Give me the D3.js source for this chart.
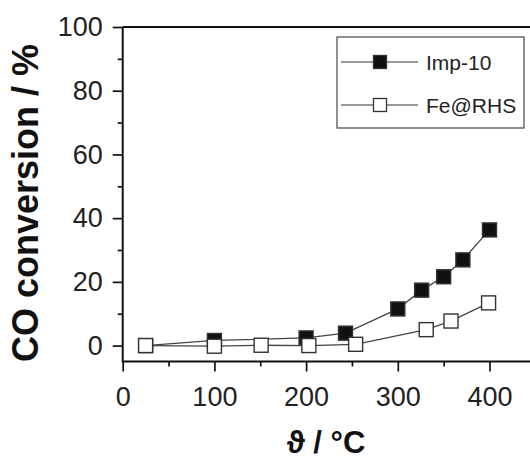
<!DOCTYPE html>
<html><head><meta charset="utf-8">
<script src="https://cdn.jsdelivr.net/npm/d3@7/dist/d3.min.js"></script>
<style>html,body{margin:0;padding:0;background:#fff}svg{display:block}</style>
</head><body><svg id="c" width="530" height="463"></svg>
<script>
const seriesNames = ["Imp-10", "Fe@RHS"];
const impT   = [25, 100, 200, 243, 300, 326, 350, 371, 400];
const impY   = [0, 1.6, 2.4, 3.9, 11.5, 17.4, 21.6, 26.9, 36.3];
const feT    = [25, 100, 151, 203, 254, 331, 358, 399];
const feY    = [0, -0.2, 0.1, 0, 0.4, 5.0, 7.7, 13.4];
const xTicks = [0, 100, 200, 300, 400];
const xMinor = [50, 150, 250, 350];
const yTicks = [0, 20, 40, 60, 80, 100];
const yMinor = [10, 30, 50, 70, 90];

const svg = d3.select("#c");
const font = "'Liberation Sans', Arial, sans-serif";
const x = d3.scaleLinear().domain([0, 450]).range([122.7, 122.7 + 0.917 * 450]);
const y = d3.scaleLinear().domain([-5, 100]).range([361.5, 27]);

const g = svg.append("g");
g.append("line").attr("x1", x(0)).attr("x2", 532).attr("y1", y(100)).attr("y2", y(100))
  .attr("stroke", "#111").attr("stroke-width", 2);

const xAxis = g.append("g").attr("transform", `translate(0,${y(-5)})`)
  .call(d3.axisBottom(x).tickValues(xTicks).tickSize(10).tickPadding(15).tickFormat(d3.format("d")));
g.append("g").attr("transform", `translate(0,${y(-5)})`)
  .call(d3.axisBottom(x).tickValues(xMinor).tickSize(5).tickFormat(""))
  .select(".domain").remove();
const yAxis = g.append("g").attr("transform", `translate(${x(0)},0)`)
  .call(d3.axisLeft(y).tickValues(yTicks).tickSize(10).tickPadding(10).tickFormat(d3.format("d")));
g.append("g").attr("transform", `translate(${x(0)},0)`)
  .call(d3.axisLeft(y).tickValues(yMinor).tickSize(5).tickFormat(""))
  .select(".domain").remove();
xAxis.select(".domain").attr("d", `M${x(0)},0H532`);
yAxis.select(".domain").attr("d", `M0,${y(100)}V${y(-5)+1}`);
g.selectAll(".domain").attr("stroke", "#111").attr("stroke-width", 2);
g.selectAll(".tick line").attr("stroke", "#111").attr("stroke-width", 1.7);
g.selectAll(".tick text").attr("font-family", font).attr("font-size", 27).attr("fill", "#222");

svg.append("text").attr("transform", "translate(38,203) rotate(-90)")
  .attr("text-anchor", "middle").attr("font-family", font).attr("font-weight", "bold")
  .attr("font-size", 36).attr("fill", "#111").text("CO conversion / %");
svg.append("text").attr("x", 326).attr("y", 453).attr("text-anchor", "middle")
  .attr("font-family", font).attr("font-weight", "bold").attr("font-size", 31)
  .attr("fill", "#111").text("ϑ / °C");

const line = d3.line().x(d => x(d[0])).y(d => y(d[1]));
const imp = impT.map((t, i) => [t, impY[i]]);
const fe = feT.map((t, i) => [t, feY[i]]);
const ms = 14;
[imp, fe].forEach(data => {
  svg.append("path").datum(data).attr("d", line).attr("fill", "none")
    .attr("stroke", "#444").attr("stroke-width", 1.3);
});
[[imp, "#111"], [fe, "#fff"]].forEach(([data, fill]) => {
  svg.append("g").selectAll("rect").data(data).join("rect")
    .attr("x", d => x(d[0]) - ms / 2).attr("y", d => y(d[1]) - ms / 2)
    .attr("width", ms).attr("height", ms).attr("fill", fill)
    .attr("stroke", "#333").attr("stroke-width", 1.4);
});

const lg = svg.append("g");
lg.append("rect").attr("x", 337).attr("y", 37).attr("width", 187).attr("height", 91)
  .attr("fill", "#fff").attr("stroke", "#555").attr("stroke-width", 1.3);
const fills = ["#111", "#fff"];
seriesNames.forEach((name, i) => {
  const cy = 62 + i * 43;
  lg.append("line").attr("x1", 341).attr("x2", 418).attr("y1", cy).attr("y2", cy)
    .attr("stroke", "#333").attr("stroke-width", 1.2);
  lg.append("rect").attr("x", 380 - 6.5).attr("y", cy - 6.5).attr("width", 13).attr("height", 13)
    .attr("fill", fills[i]).attr("stroke", "#333").attr("stroke-width", 1.3);
  lg.append("text").attr("x", 426).attr("y", cy + 7.5).attr("font-family", font)
    .attr("font-size", 21).attr("fill", "#222").text(name);
});
</script></body></html>
